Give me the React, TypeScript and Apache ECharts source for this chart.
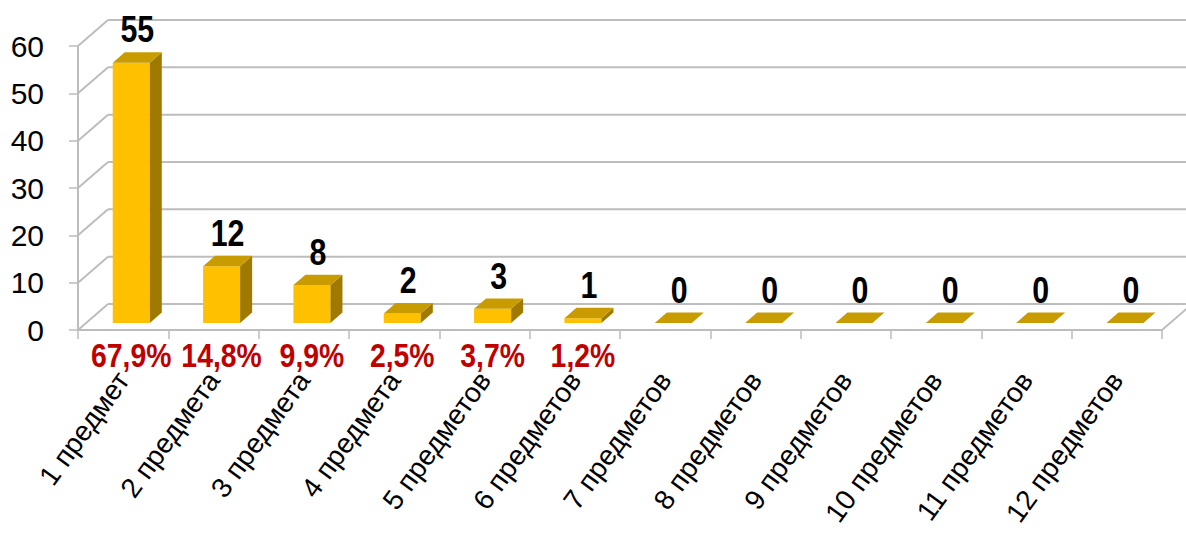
import React, { useEffect, useRef } from "react";
import * as echarts from "echarts";

const categories = [
  "1 предмет", "2 предмета", "3 предмета", "4 предмета", "5 предметов", "6 предметов",
  "7 предметов", "8 предметов", "9 предметов", "10 предметов", "11 предметов", "12 предметов",
];
const counts = [55, 12, 8, 2, 3, 1, 0, 0, 0, 0, 0, 0];
const percents = ["67,9%", "14,8%", "9,9%", "2,5%", "3,7%", "1,2%", "", "", "", "", "", ""];
const yTicks = [0, 10, 20, 30, 40, 50, 60];

const FONT = "'Liberation Sans', Arial, sans-serif";
const DX = 30;
const DY = -26;
const D0 = 0.27;
const D1 = 0.67;
const GRID_COLOR = "#BDBDBD";

export default function App() {
  const ref = useRef<HTMLDivElement>(null);
  useEffect(() => {
    if (!ref.current) return;
    const chart = echarts.init(ref.current, undefined, { renderer: "svg" });
    const option: any = {
      animation: false,
      backgroundColor: "#ffffff",
      grid: { left: 78, right: 24, top: 46, bottom: 211, containLabel: false, outerBoundsMode: "none" },
      xAxis: {
        type: "category",
        data: categories,
        boundaryGap: true,
        axisLine: { show: true, lineStyle: { color: GRID_COLOR, width: 2 } },
        axisTick: { show: true, length: 9, lineStyle: { color: GRID_COLOR, width: 1.5 } },
        axisLabel: {
          interval: 0,
          rotate: 54,
          margin: 45,
          fontSize: 28,
          color: "#000",
          fontFamily: FONT,
        },
        splitLine: { show: false },
      },
      yAxis: {
        type: "value",
        min: 0,
        max: 60,
        interval: 10,
        axisLine: { show: true, lineStyle: { color: GRID_COLOR, width: 2 } },
        axisTick: { show: true, length: 9, lineStyle: { color: GRID_COLOR, width: 1.5 } },
        axisLabel: { margin: 34, fontSize: 30, color: "#000", fontFamily: FONT },
        splitLine: { show: false },
      },
      series: [
        {
          type: "custom",
          z: 1,
          silent: true,
          data: yTicks.map((v) => [0, v]),
          encode: { x: 0, y: 1 },
          renderItem: (params: any, api: any) => {
            const v = api.value(1);
            const p = api.coord([0, v]);
            const bw = api.size([1, 0])[0];
            const left = p[0] - bw / 2;
            const right = api.coord([categories.length - 1, v])[0] + bw / 2;
            const y = p[1];
            const style = { stroke: GRID_COLOR, lineWidth: 2, fill: null };
            const children: any[] = [
              { type: "line", shape: { x1: left, y1: y, x2: left + DX, y2: y + DY }, style },
              { type: "line", shape: { x1: left + DX, y1: y + DY, x2: right + DX, y2: y + DY }, style },
            ];
            if (v === 0) {
              children.push({ type: "line", shape: { x1: right, y1: y, x2: right + DX, y2: y + DY }, style });
            }
            return { type: "group", children };
          },
        },
        {
          type: "custom",
          z: 3,
          data: counts.map((c, i) => [i, c]),
          encode: { x: 0, y: 1 },
          renderItem: (params: any, api: any) => {
            const i = api.value(0);
            const v = api.value(1);
            const top = api.coord([i, v]);
            const base = api.coord([i, 0]);
            const bw = api.size([1, 0])[0];
            const w = bw * 0.41;
            const cx = top[0] + D0 * DX;
            const xl = cx - w / 2;
            const xr = cx + w / 2;
            const yt = top[1] + D0 * DY;
            const yb = base[1] + D0 * DY;
            const ddx = (D1 - D0) * DX;
            const ddy = (D1 - D0) * DY;
            const children: any[] = [];
            if (yb - yt > 0.5) {
              children.push({
                type: "rect",
                shape: { x: xl, y: yt, width: w, height: yb - yt },
                style: { fill: "#FFC000" },
              });
              children.push({
                type: "polygon",
                shape: { points: [[xr, yt], [xr + ddx, yt + ddy], [xr + ddx, yb + ddy], [xr, yb]] },
                style: { fill: "#A07A00" },
              });
            }
            children.push({
              type: "polygon",
              shape: { points: [[xl, yt], [xr, yt], [xr + ddx, yt + ddy], [xl + ddx, yt + ddy]] },
              style: { fill: "#C89C00" },
            });
            children.push({
              type: "text",
              x: top[0] + ((D0 + D1) / 2) * DX,
              y: yt + ddy - 23,
              scaleX: 0.82,
              style: {
                text: String(counts[params.dataIndex]),
                fill: "#000",
                fontSize: 37,
                fontWeight: "bold",
                fontFamily: FONT,
                align: "center",
                verticalAlign: "middle",
              },
            });
            const pct = percents[params.dataIndex];
            if (pct) {
              children.push({
                type: "text",
                x: base[0] + D0 * DX,
                y: base[1] + 26,
                scaleX: 0.86,
                style: {
                  text: pct,
                  fill: "#C00000",
                  fontSize: 33,
                  fontWeight: "bold",
                  fontFamily: FONT,
                  align: "center",
                  verticalAlign: "middle",
                },
              });
            }
            return { type: "group", children };
          },
        },
      ],
    };
    chart.setOption(option);
    return () => chart.dispose();
  }, []);
  return (
    <div
      ref={ref}
      style={{ position: "fixed", left: 0, top: 0, width: 1186, height: 541, background: "#fff" }}
    />
  );
}
